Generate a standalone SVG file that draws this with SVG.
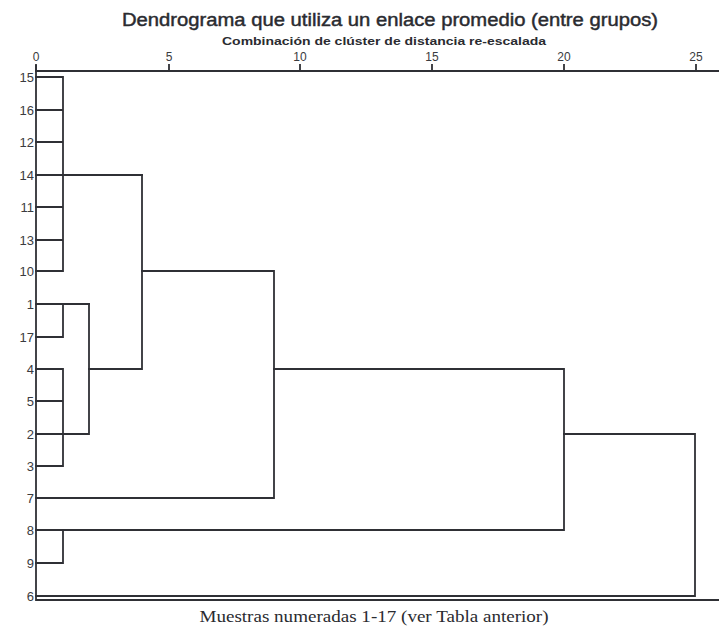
<svg xmlns="http://www.w3.org/2000/svg" width="719" height="627" viewBox="0 0 719 627">
<style>
.ln{fill:none;stroke:#2f3035;stroke-width:1.8;stroke-linecap:square}
.lbl{font-family:"Liberation Sans",Arial,sans-serif;font-size:13px;fill:#3a3b40;text-anchor:end}
.tick{font-family:"Liberation Sans",Arial,sans-serif;font-size:12px;fill:#3a3b40;text-anchor:middle}
</style>
<rect width="719" height="627" fill="#ffffff"/>
<text x="390" y="26" font-family="'Liberation Sans',Arial,sans-serif" font-size="18" fill="#2a2b30" stroke="#2a2b30" stroke-width="0.45" text-anchor="middle" textLength="536" lengthAdjust="spacingAndGlyphs">Dendrograma que utiliza un enlace promedio (entre grupos)</text>
<text x="384" y="45" font-family="'Liberation Sans',Arial,sans-serif" font-size="11" font-weight="bold" fill="#2a2b30" text-anchor="middle" textLength="324" lengthAdjust="spacingAndGlyphs">Combinación de clúster de distancia re-escalada</text>
<g id="axis">
<text class="tick" x="36" y="61">0</text>
<text class="tick" x="169" y="61">5</text>
<text class="tick" x="300" y="61">10</text>
<text class="tick" x="432" y="61">15</text>
<text class="tick" x="564" y="61">20</text>
<text class="tick" x="696" y="61">25</text>
<path class="ln" d="M36,71 H719 M36,65 V71 M169,65 V71 M300,65 V71 M432,65 V71 M564,65 V71 M696,65 V71"/>
<path class="ln" d="M36,66 V600 H719"/>
</g>
<g id="labels">
<text class="lbl" x="34" y="82">15</text>
<text class="lbl" x="34" y="115">16</text>
<text class="lbl" x="34" y="147">12</text>
<text class="lbl" x="34" y="180">14</text>
<text class="lbl" x="34" y="212">11</text>
<text class="lbl" x="34" y="245">13</text>
<text class="lbl" x="34" y="276">10</text>
<text class="lbl" x="34" y="309">1</text>
<text class="lbl" x="34" y="342">17</text>
<text class="lbl" x="34" y="374">4</text>
<text class="lbl" x="34" y="406">5</text>
<text class="lbl" x="34" y="439">2</text>
<text class="lbl" x="34" y="471">3</text>
<text class="lbl" x="34" y="503">7</text>
<text class="lbl" x="34" y="535">8</text>
<text class="lbl" x="34" y="568">9</text>
<text class="lbl" x="34" y="601">6</text>
</g>
<g id="connectors">
<path class="ln" d="M36,77 H63 V271 H36 M36,110 H63 M36,142 H63 M36,207 H63 M36,240 H63 M36,175 H142"/>
<path class="ln" d="M36,304 H89 M36,337 H63 V304"/>
<path class="ln" d="M36,369 H63 V466 H36 M36,401 H63 M36,434 H89 V304"/>
<path class="ln" d="M89,369 H142 V175"/>
<path class="ln" d="M142,271 H274 V498 H36"/>
<path class="ln" d="M274,369 H564 V530 H36"/>
<path class="ln" d="M36,563 H63 V530"/>
<path class="ln" d="M564,434 H695 V596 H36"/>
</g>
<text x="374" y="622" font-family="'Liberation Serif','Times New Roman',serif" font-size="16" fill="#2a2b30" text-anchor="middle" textLength="349" lengthAdjust="spacingAndGlyphs">Muestras numeradas 1-17 (ver Tabla anterior)</text>
</svg>
